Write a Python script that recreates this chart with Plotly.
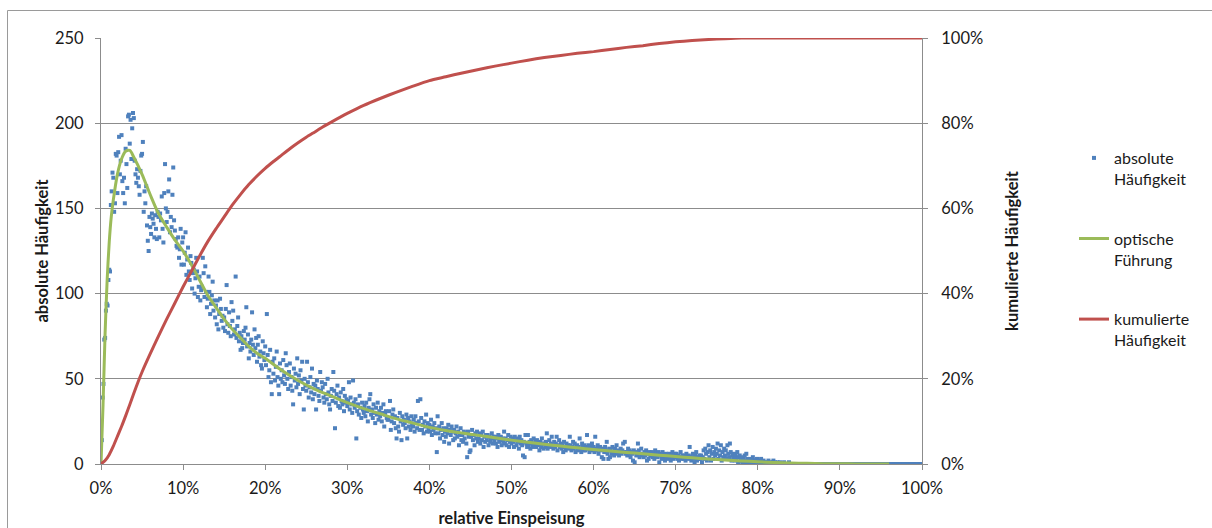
import plotly.graph_objects as go

# ---------------- data ----------------
# absolute frequency per 0.1 % bin of relative feed-in (rows = 1 % each)
abs_counts = (
    [0, 14, 39, 47, 73, 74, 90, 94, 93, 108] +
    [114, 113, 152, 160, 171, 168, 148, 153, 182, 181] +
    [159, 183, 192, 170, 178, 193, 166, 159, 168, 153] +
    [185, 176, 162, 204, 205, 188, 202, 179, 197, 206] +
    [203, 178, 170, 165, 173, 168, 163, 158, 172, 181] +
    [182, 189, 148, 160, 153, 163, 140, 131, 125, 145] +
    [139, 135, 147, 144, 141, 133, 146, 138, 132, 148] +
    [145, 133, 147, 143, 157, 138, 130, 159, 176, 150] +
    [142, 148, 160, 167, 136, 145, 139, 158, 174, 143] +
    [137, 132, 128, 127, 133, 121, 126, 138, 117, 130] +
    [133, 117, 124, 136, 111, 120, 127, 113, 108, 122] +
    [118, 103, 112, 114, 100, 109, 121, 113, 98, 104] +
    [110, 96, 102, 104, 121, 112, 98, 116, 101, 92] +
    [97, 110, 101, 88, 94, 99, 107, 90, 96, 86] +
    [93, 82, 96, 79, 88, 97, 91, 84, 87, 80] +
    [86, 78, 91, 105, 82, 77, 89, 81, 75, 95] +
    [84, 90, 76, 79, 110, 74, 81, 86, 72, 77] +
    [67, 75, 68, 71, 78, 73, 80, 92, 69, 76] +
    [62, 71, 66, 73, 89, 70, 64, 79, 68, 74] +
    [60, 70, 75, 63, 66, 58, 56, 72, 65, 61] +
    [69, 58, 88, 64, 51, 55, 67, 48, 41, 60] +
    [53, 62, 49, 57, 66, 51, 46, 41, 59, 50] +
    [55, 48, 61, 52, 47, 65, 58, 50, 44, 54] +
    [59, 46, 51, 43, 35, 56, 49, 53, 45, 62] +
    [47, 52, 41, 55, 49, 60, 44, 32, 50, 46] +
    [43, 60, 48, 39, 45, 51, 42, 56, 38, 47] +
    [41, 46, 32, 49, 44, 40, 37, 54, 43, 48] +
    [45, 39, 36, 47, 41, 38, 50, 42, 35, 32] +
    [40, 44, 37, 54, 43, 21, 36, 41, 46, 34] +
    [39, 33, 42, 37, 35, 44, 31, 40, 36, 38] +
    [34, 37, 48, 32, 39, 35, 30, 49, 36, 33] +
    [38, 15, 31, 35, 29, 40, 33, 27, 36, 32] +
    [30, 34, 28, 36, 31, 25, 33, 38, 41, 29] +
    [32, 27, 35, 30, 24, 33, 29, 36, 26, 31] +
    [28, 33, 25, 30, 35, 22, 29, 31, 27, 26] +
    [26, 31, 37, 20, 25, 29, 32, 24, 28, 21] +
    [15, 27, 22, 19, 30, 25, 14, 28, 23, 26] +
    [24, 21, 29, 15, 27, 22, 25, 20, 28, 23] +
    [22, 26, 19, 28, 24, 21, 37, 25, 20, 38] +
    [27, 20, 23, 18, 25, 22, 29, 19, 24, 21] +
    [23, 19, 26, 17, 22, 20, 24, 18, 21, 7] +
    [28, 18, 22, 15, 20, 24, 17, 21, 13, 19] +
    [16, 21, 18, 23, 12, 20, 17, 22, 19, 14] +
    [20, 15, 18, 22, 16, 19, 11, 17, 21, 14] +
    [17, 13, 19, 15, 18, 12, 4, 19, 16, 7] +
    [8, 16, 20, 14, 17, 11, 18, 15, 19, 13] +
    [15, 18, 12, 17, 14, 19, 10, 16, 13, 17] +
    [14, 17, 11, 16, 13, 15, 18, 12, 16, 14] +
    [16, 12, 15, 10, 17, 13, 14, 16, 11, 15] +
    [13, 19, 12, 15, 11, 14, 17, 10, 13, 16] +
    [12, 15, 13, 10, 16, 14, 11, 13, 15, 9] +
    [16, 12, 14, 11, 5, 13, 4, 17, 12, 10] +
    [17, 11, 13, 9, 14, 12, 10, 15, 11, 13] +
    [10, 14, 11, 12, 8, 13, 10, 15, 12, 9] +
    [12, 10, 13, 18, 9, 11, 14, 10, 12, 16] +
    [11, 9, 13, 10, 12, 16, 8, 11, 14, 10] +
    [12, 9, 11, 7, 13, 10, 8, 12, 10, 11] +
    [9, 16, 11, 8, 10, 13, 9, 12, 7, 10] +
    [11, 8, 10, 15, 9, 7, 12, 10, 8, 11] +
    [8, 10, 17, 9, 11, 7, 10, 8, 12, 9] +
    [10, 7, 16, 9, 8, 11, 6, 9, 10, 8] +
    [4, 9, 3, 7, 10, 8, 13, 6, 3, 9] +
    [4, 8, 6, 10, 7, 5, 9, 7, 11, 6] +
    [8, 5, 7, 9, 6, 8, 12, 7, 13, 6] +
    [7, 5, 9, 6, 8, 4, 7, 6, 2, 8] +
    [1, 7, 5, 6, 12, 8, 4, 6, 9, 5] +
    [6, 4, 7, 5, 8, 2, 6, 3, 7, 5] +
    [5, 7, 4, 6, 3, 8, 5, 6, 4, 7] +
    [1, 5, 6, 3, 7, 4, 5, 2, 6, 4] +
    [5, 3, 6, 4, 2, 5, 7, 3, 4, 6] +
    [4, 6, 3, 5, 2, 4, 7, 3, 5, 4] +
    [3, 5, 2, 6, 4, 3, 5, 10, 4, 2] +
    [4, 6, 3, 1, 5, 7, 2, 4, 3, 5] +
    [3, 5, 1, 4, 8, 3, 9, 6, 2, 7] +
    [11, 4, 8, 2, 6, 10, 3, 7, 5, 9] +
    [6, 12, 3, 8, 5, 11, 2, 7, 4, 9] +
    [5, 8, 3, 11, 6, 4, 12, 7, 2, 5] +
    [4, 6, 2, 5, 3, 7, 1, 4, 5, 2] +
    [3, 1, 4, 2, 5, 0, 6, 3, 1, 2] +
    [2, 3, 0, 1, 4, 2, 1, 2, 0, 3] +
    [1, 2, 0, 1, 3, 0, 1, 2, 0, 1] +
    [0, 1, 0, 2, 0, 1, 0, 0, 1, 2] +
    [0, 1, 0, 0, 1, 0, 0, 1, 0, 0] +
    [0, 0, 1, 0, 0, 0, 0, 0, 1, 0] +
    [0, 0, 0, 0, 0, 0, 0, 0, 0, 0] +
    [0, 0, 0, 0, 0, 0, 0, 0, 0, 0] +
    [0, 0, 0, 0, 0, 0, 0, 0, 0, 0] +
    [0, 0, 0, 0, 0, 0, 0, 0, 0, 0] +
    [0, 0, 0, 0, 0, 0, 0, 0, 0, 0] +
    [0, 0, 0, 0, 0, 0, 0, 0, 0, 0] +
    [0, 0, 0, 0, 0, 0, 0, 0, 0, 0] +
    [0, 0, 0, 0, 0, 0, 0, 0, 0, 0] +
    [0, 0, 0, 0, 0, 0, 0, 0, 0, 0] +
    [0, 0, 0, 0, 0, 0, 0, 0, 0, 0] +
    [0, 0, 0, 0, 0, 0, 0, 0, 0, 0] +
    [0, 0, 0, 0, 0, 0, 0, 0, 0, 0] +
    [0, 0, 0, 0, 0, 0, 0, 0, 0, 0] +
    [0, 0, 0, 0, 0, 0, 0, 0, 0, 0] +
    [0, 0, 0, 0, 0, 0, 0, 0, 0, 0] +
    [0, 0, 0, 0, 0, 0, 0, 0, 0, 0] +
    [0]
)
bin_width_pct = 0.1
abs_x = [round(i * bin_width_pct, 1) for i in range(len(abs_counts))]

# optical guide (fitted curve)
guide_x = [0, 0.25, 0.5, 0.75, 1, 1.25, 1.5, 2, 2.5, 3, 3.5, 4, 5, 6, 7, 8, 9, 10,
           11, 12, 13, 14, 15, 16, 17, 18, 19, 20, 22, 24, 26, 28, 30, 32, 34, 36,
           38, 40, 42, 44, 46, 48, 50, 52, 54, 56, 58, 60, 62, 64, 66, 68, 70, 72,
           74, 76, 78, 80, 82, 84, 86, 88, 90, 92, 94, 96]
guide_y = [0, 35, 77, 108, 130, 145, 155, 170, 179, 183.5, 184, 180, 170, 158, 147,
           139, 131.5, 125, 117, 108, 99, 92, 85, 79, 74, 69, 65, 62, 55, 49, 44, 40,
           36, 32.5, 29.5, 26.5, 24, 21.5, 19.7, 18.2, 16.8, 15.4, 14, 12.8, 11.6,
           10.5, 9.5, 8.5, 7.6, 6.8, 6, 5.2, 4.4, 3.6, 3, 2.4, 1.8, 1.3, 0.9, 0.6,
           0.4, 0.2, 0.1, 0.05, 0, 0]

# cumulative frequency (%)
cum_x = [0, 0.5, 1, 1.5, 2, 2.5, 3, 3.5, 4, 4.5, 5, 6, 7, 8, 9, 10, 11, 12, 13, 14,
         15, 16, 17, 18, 19, 20, 21, 22, 23, 24, 25, 26, 27, 28, 30, 32, 34, 36, 38,
         40, 42, 44, 46, 48, 50, 52, 54, 56, 58, 60, 62, 64, 66, 68, 70, 72, 74, 76,
         78, 80, 90, 100]
cum_y = [0, 0.8, 2.2, 4.2, 6.5, 8.8, 11.3, 13.9, 16.6, 19.2, 21.6, 25.9, 30.0, 34.0,
         37.8, 41.6, 45.2, 48.8, 52.2, 55.2, 58.0, 60.8, 63.3, 65.6, 67.6, 69.4, 71.0,
         72.5, 74.0, 75.4, 76.7, 77.9, 79.1, 80.2, 82.3, 84.2, 85.8, 87.3, 88.7, 90.0,
         90.9, 91.8, 92.6, 93.4, 94.1, 94.8, 95.4, 95.9, 96.4, 96.8, 97.3, 97.8, 98.2,
         98.7, 99.1, 99.4, 99.65, 99.85, 100, 100, 100, 100]

x_ticks = list(range(0, 101, 10))
x_ticktext = [f"{v}%" for v in x_ticks]
y_ticks = list(range(0, 251, 50))
y2_ticks = list(range(0, 101, 20))
y2_ticktext = [f"{v}%" for v in y2_ticks]

# ---------------- figure ----------------
FONT = "Lato"
TXT = "#1a1a1a"
GRID = "#8c8c8c"
TICK_SIZE = 16.5
TITLE_SIZE = 16.5

fig = go.Figure()
fig.add_trace(go.Scatter(
    x=abs_x, y=abs_counts, mode="markers", name="absolute<br>Häufigkeit",
    legendgroup="a",
    marker=dict(symbol="square", size=4, color="#4F81BD", line=dict(width=0)),
))
fig.add_trace(go.Scatter(
    x=guide_x, y=guide_y, mode="lines", name="optische<br>Führung",
    legendgroup="b",
    line=dict(color="#9BBB59", width=3, shape="spline", smoothing=0.8),
))
fig.add_trace(go.Scatter(
    x=cum_x, y=cum_y, mode="lines", name="kumulierte<br>Häufigkeit",
    legendgroup="c", yaxis="y2",
    line=dict(color="#C0504D", width=3, shape="spline", smoothing=0.6),
))

W, H = 1212, 528
L, R, T, B = 101, 290, 38, 64
pw, ph = W - L - R, H - T - B

def px2paper_x(px):
    return (px - L) / pw

def px2paper_y(py):
    return (H - B - py) / ph

fig.update_layout(
    width=W, height=H,
    margin=dict(l=L, r=R, t=T, b=B, autoexpand=False),
    paper_bgcolor="white", plot_bgcolor="white",
    font=dict(family=FONT, size=16, color=TXT),
    showlegend=True,
    legend=dict(
        x=px2paper_x(1074), y=px2paper_y(141), xanchor="left", yanchor="top",
        valign="top", tracegroupgap=36, bgcolor="rgba(0,0,0,0)",
        font=dict(family=FONT, size=16, color=TXT),
    ),
    xaxis=dict(
        range=[0, 100], tickvals=x_ticks, ticktext=x_ticktext,
        showgrid=False, zeroline=False,
        showline=True, linecolor=GRID, linewidth=1,
        ticks="outside", ticklen=5, tickcolor=GRID,
        tickfont=dict(family=FONT, size=TICK_SIZE, color=TXT),
        ticklabelstandoff=4,
        title=dict(text="<b>relative Einspeisung</b>", standoff=18,
                   font=dict(family=FONT, size=TITLE_SIZE, color=TXT)),
    ),
    yaxis=dict(
        range=[0, 250], tickvals=y_ticks,
        showgrid=True, gridcolor=GRID, gridwidth=1, zeroline=False,
        showline=True, linecolor=GRID, linewidth=1,
        ticks="outside", ticklen=5, tickcolor=GRID,
        tickfont=dict(family=FONT, size=TICK_SIZE, color=TXT),
        ticklabelstandoff=8,
        title=dict(text="<b>absolute Häufigkeit</b>", standoff=2,
                   font=dict(family=FONT, size=TITLE_SIZE, color=TXT)),
    ),
    yaxis2=dict(
        range=[0, 100], tickvals=y2_ticks, ticktext=y2_ticktext,
        overlaying="y", side="right", anchor="x",
        showgrid=False, zeroline=False,
        showline=True, linecolor=GRID, linewidth=1,
        ticks="outside", ticklen=5, tickcolor=GRID,
        tickfont=dict(family=FONT, size=TICK_SIZE, color=TXT),
        ticklabelstandoff=10,
        title=dict(text="<b>kumulierte Häufigkeit</b>", standoff=24,
                   font=dict(family=FONT, size=TITLE_SIZE, color=TXT)),
    ),
    shapes=[dict(
        type="rect", xref="paper", yref="paper",
        x0=px2paper_x(7.5), x1=px2paper_x(1230),
        y0=px2paper_y(560), y1=px2paper_y(10.5),
        line=dict(color="#9a9a9a", width=1), fillcolor="rgba(0,0,0,0)", layer="below",
    )],
)

fig.write_html("out.html")
